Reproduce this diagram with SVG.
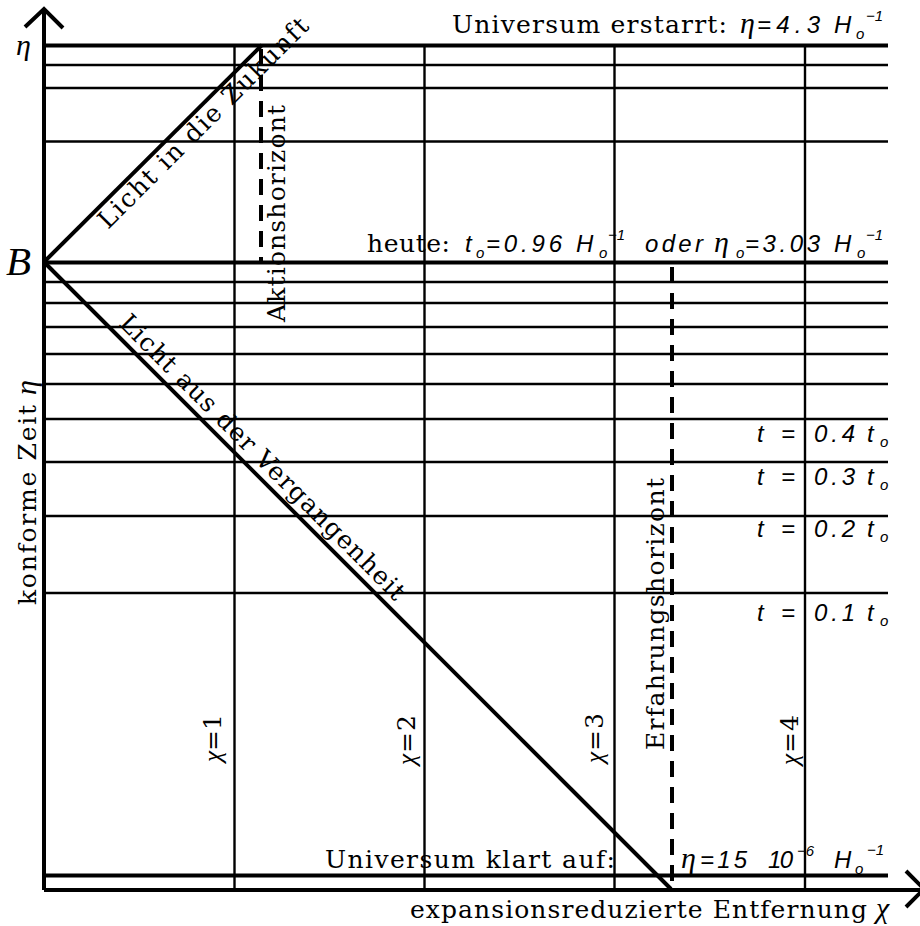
<svg xmlns="http://www.w3.org/2000/svg" width="920" height="926" viewBox="0 0 920 926">
<style>
.thin{stroke:#000;stroke-width:2.4;fill:none}
.thick{stroke:#000;stroke-width:4;fill:none}
.cone{stroke:#000;stroke-width:4;fill:none}
.dash{stroke:#000;stroke-width:4;fill:none;stroke-dasharray:16 10}
.rm{font-family:"DejaVu Serif","Liberation Serif",serif;font-size:25px;fill:#000}
.it{font-family:"Liberation Sans",Arial,sans-serif;font-style:italic;font-size:24px;fill:#000}
.gr{font-family:"Liberation Serif","DejaVu Serif",serif;font-style:italic;font-size:30px;fill:#000}
.sm{font-family:"Liberation Sans",Arial,sans-serif;font-style:italic;font-size:15px;fill:#000}
</style>
<rect width="920" height="926" fill="#fff"/>
<g id="grid">
<line class="thin" x1="44" y1="65" x2="888" y2="65"/>
<line class="thin" x1="44" y1="88" x2="888" y2="88"/>
<line class="thin" x1="44" y1="141.5" x2="888" y2="141.5"/>
<line class="thin" x1="44" y1="282" x2="888" y2="282"/>
<line class="thin" x1="44" y1="303" x2="888" y2="303"/>
<line class="thin" x1="44" y1="327" x2="888" y2="327"/>
<line class="thin" x1="44" y1="354" x2="888" y2="354"/>
<line class="thin" x1="44" y1="384" x2="888" y2="384"/>
<line class="thin" x1="44" y1="419" x2="888" y2="419"/>
<line class="thin" x1="44" y1="462" x2="888" y2="462"/>
<line class="thin" x1="44" y1="516" x2="888" y2="516"/>
<line class="thin" x1="44" y1="593" x2="888" y2="593"/>
<line class="thin" x1="234.5" y1="45" x2="234.5" y2="890"/>
<line class="thin" x1="424.5" y1="45" x2="424.5" y2="890"/>
<line class="thin" x1="614.5" y1="45" x2="614.5" y2="890"/>
<line class="thin" x1="805" y1="45" x2="805" y2="890"/>
<line class="thick" x1="44" y1="45.5" x2="888" y2="45.5"/>
<line class="thick" x1="44" y1="262.5" x2="888" y2="262.5"/>
<line class="thick" x1="44" y1="875.5" x2="888" y2="875.5"/>
</g>
<g id="axes">
<line class="thick" x1="44" y1="10" x2="44" y2="890"/>
<line class="thick" x1="44" y1="890" x2="922" y2="890"/>
<polyline class="thick" points="25,27 44,9 63,28"/>
<polyline class="thick" points="906,871 924,889 906,907"/>
</g>
<g id="connectors">
<line class="cone" x1="44" y1="262" x2="262" y2="45"/>
<line class="cone" x1="44" y1="262" x2="671" y2="889"/>
<line class="dash" x1="261" y1="49" x2="261" y2="262"/>
<line class="dash" x1="672" y1="267" x2="672" y2="889"/>
</g>
<g id="label-erstarrt">
<text class="rm" x="452" y="33" textLength="275" lengthAdjust="spacing">Universum erstarrt:</text>
<text class="gr" x="740" y="33">η</text>
<text class="it" x="757" y="33" textLength="63" lengthAdjust="spacing">=4.3</text>
<text class="it" x="834" y="33">H</text>
<text class="sm" x="856" y="39">o</text>
<text class="sm" x="866" y="21">−1</text>
</g>
<g id="label-heute">
<text class="rm" x="367" y="252" textLength="83" lengthAdjust="spacing">heute:</text>
<text class="it" x="465" y="252">t</text>
<text class="sm" x="476" y="258">o</text>
<text class="it" x="486" y="252" textLength="76" lengthAdjust="spacing">=0.96</text>
<text class="it" x="576" y="252">H</text>
<text class="sm" x="599" y="258">o</text>
<text class="sm" x="608" y="240">−1</text>
<text class="it" x="645" y="252" textLength="58" lengthAdjust="spacing">oder</text>
<text class="gr" x="714" y="252">η</text>
<text class="sm" x="736" y="258">o</text>
<text class="it" x="745" y="252" textLength="75" lengthAdjust="spacing">=3.03</text>
<text class="it" x="834" y="252">H</text>
<text class="sm" x="857" y="258">o</text>
<text class="sm" x="866" y="240">−1</text>
</g>
<g id="label-t04">
<text class="it" x="757" y="442">t</text>
<text class="it" x="781" y="442">=</text>
<text class="it" x="814" y="442" textLength="41" lengthAdjust="spacing">0.4</text>
<text class="it" x="867" y="442">t</text>
<text class="sm" x="880" y="447">o</text>
</g>
<g id="label-t03">
<text class="it" x="757" y="485">t</text>
<text class="it" x="781" y="485">=</text>
<text class="it" x="814" y="485" textLength="41" lengthAdjust="spacing">0.3</text>
<text class="it" x="867" y="485">t</text>
<text class="sm" x="880" y="490">o</text>
</g>
<g id="label-t02">
<text class="it" x="757" y="537">t</text>
<text class="it" x="781" y="537">=</text>
<text class="it" x="814" y="537" textLength="41" lengthAdjust="spacing">0.2</text>
<text class="it" x="867" y="537">t</text>
<text class="sm" x="880" y="542">o</text>
</g>
<g id="label-t01">
<text class="it" x="757" y="621">t</text>
<text class="it" x="781" y="621">=</text>
<text class="it" x="814" y="621" textLength="41" lengthAdjust="spacing">0.1</text>
<text class="it" x="867" y="621">t</text>
<text class="sm" x="880" y="626">o</text>
</g>
<g id="label-klart">
<text class="rm" x="325" y="868" textLength="290" lengthAdjust="spacing">Universum klart auf:</text>
<text class="gr" x="681" y="868">η</text>
<text class="it" x="700" y="868" textLength="47" lengthAdjust="spacing">=15</text>
<text class="it" x="768" y="868" textLength="25" lengthAdjust="spacing">10</text>
<text class="sm" x="797" y="856">−6</text>
<text class="it" x="834" y="868">H</text>
<text class="sm" x="855" y="874">o</text>
<text class="sm" x="867" y="855">−1</text>
</g>
<g id="label-xaxis">
<text class="rm" x="410" y="918" textLength="457" lengthAdjust="spacing">expansionsreduzierte Entfernung</text>
<text class="gr" x="876" y="918">χ</text>
</g>
<g id="label-yaxis">
<text class="rm" transform="translate(36,605) rotate(-90)" textLength="200" lengthAdjust="spacing">konforme Zeit</text>
<text class="gr" transform="translate(36,395) rotate(-90)">η</text>
<text class="gr" x="16" y="55">η</text>
<text class="gr" x="6" y="275" style="font-size:41px">B</text>
</g>
<g id="label-cones">
<text class="rm" transform="translate(108,230) rotate(-45)" textLength="286" lengthAdjust="spacing">Licht in die Zukunft</text>
<text class="rm" transform="translate(118,324.6) rotate(45)" textLength="392" lengthAdjust="spacing">Licht aus der Vergangenheit</text>
</g>
<g id="label-horizons">
<text class="rm" transform="translate(285,322) rotate(-90)" textLength="217" lengthAdjust="spacing">Aktionshorizont</text>
<text class="rm" transform="translate(664,750) rotate(-90)" textLength="272" lengthAdjust="spacing">Erfahrungshorizont</text>
</g>
<g id="label-chi">
<text class="rm" transform="translate(221,762) rotate(-90)" textLength="48" lengthAdjust="spacing"><tspan class="gr" style="font-size:25px">χ</tspan>=1</text>
<text class="rm" transform="translate(415,765) rotate(-90)" textLength="50" lengthAdjust="spacing"><tspan class="gr" style="font-size:25px">χ</tspan>=2</text>
<text class="rm" transform="translate(603,763) rotate(-90)" textLength="50" lengthAdjust="spacing"><tspan class="gr" style="font-size:25px">χ</tspan>=3</text>
<text class="rm" transform="translate(798,765) rotate(-90)" textLength="50" lengthAdjust="spacing"><tspan class="gr" style="font-size:25px">χ</tspan>=4</text>
</g>
</svg>
